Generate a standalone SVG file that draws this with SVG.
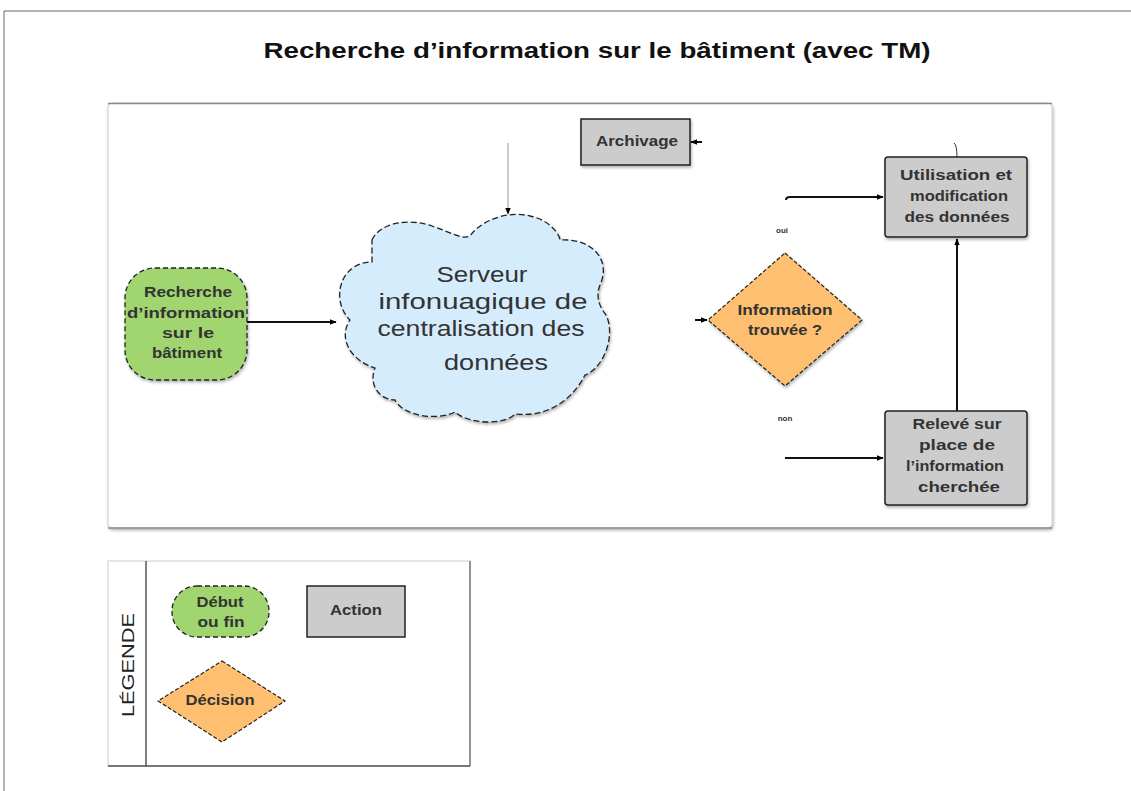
<svg xmlns="http://www.w3.org/2000/svg" width="1131" height="791" viewBox="0 0 1131 791">
<defs>
<marker id="arr" viewBox="0 0 10 10" refX="9" refY="5" markerWidth="7" markerHeight="7" orient="auto" markerUnits="userSpaceOnUse">
<path d="M0,1 L10,5 L0,9 Z" fill="#000"/>
</marker>
<filter id="sh" x="-10%" y="-10%" width="120%" height="130%">
<feDropShadow dx="1" dy="2" stdDeviation="1.5" flood-color="#000" flood-opacity="0.3"/>
</filter>
</defs>
<style>
text{font-family:"Liberation Sans",Arial,sans-serif;fill:#333;}
.t{font-size:14px;font-weight:bold;text-anchor:middle;}
.cl{font-size:22px;text-anchor:middle;fill:#333;}
.start{fill:#a0d56f;stroke:#222;stroke-width:1.3;stroke-dasharray:5 3;}
.act{fill:#cccccc;stroke:#222;stroke-width:1.5;}
.dec{fill:#fec070;stroke:#222;stroke-width:1.2;stroke-dasharray:4 2;}
.cloud{fill:#d5ecfc;stroke:#222;stroke-width:1.3;stroke-dasharray:6 3;}
.c{fill:none;stroke:#111;stroke-width:2;}
</style>
<rect width="1131" height="791" fill="#fff"/>
<path d="M4,791 V11 H1131" fill="none" stroke="#666" stroke-width="1"/>
<text x="597" y="58" textLength="667" lengthAdjust="spacingAndGlyphs" style="font-size:22px;font-weight:bold;text-anchor:middle;fill:#111">Recherche d’information sur le bâtiment (avec TM)</text>

<g id="panel">
<rect x="108" y="103" width="944" height="425" rx="4" fill="#fff" stroke="#ccc" stroke-width="1" filter="url(#sh)"/>
<line x1="108" y1="103.5" x2="1052" y2="103.5" stroke="#888" stroke-width="1.5"/>
<line x1="108" y1="528" x2="1052" y2="528" stroke="#888" stroke-width="1.5"/>
</g>

<g id="connectors">
<line class="c" x1="247" y1="322" x2="336" y2="322" marker-end="url(#arr)"/>
<path d="M508,143 V214" fill="none" stroke="#999" stroke-width="1" marker-end="url(#arr)"/>
<line class="c" x1="702" y1="142" x2="691" y2="142" marker-end="url(#arr)"/>
<path class="c" d="M786,200 Q786,197 790,197 H883" marker-end="url(#arr)"/>
<line class="c" x1="695" y1="320" x2="707" y2="320" marker-end="url(#arr)"/>
<line class="c" x1="785" y1="458" x2="883" y2="458" marker-end="url(#arr)"/>
<line class="c" x1="957" y1="411" x2="957" y2="239" marker-end="url(#arr)"/>
<path d="M954,143 Q957,145 957,157" fill="none" stroke="#333" stroke-width="1"/>
<text x="782" y="233" style="font-size:8px;font-weight:bold;text-anchor:middle">oui</text>
<text x="785" y="421" style="font-size:8px;font-weight:bold;text-anchor:middle">non</text>
</g>

<g id="start">
<rect class="start" x="125" y="268" width="122" height="112" rx="30" ry="30" filter="url(#sh)"/>
<text class="t" x="188" y="297" textLength="88" lengthAdjust="spacingAndGlyphs">Recherche</text>
<text class="t" x="186" y="318" textLength="118" lengthAdjust="spacingAndGlyphs">d’information</text>
<text class="t" x="188" y="338" textLength="52" lengthAdjust="spacingAndGlyphs">sur le</text>
<text class="t" x="187" y="358" textLength="70" lengthAdjust="spacingAndGlyphs">bâtiment</text>
</g>

<g id="cloud">
<path class="cloud" filter="url(#sh)" d="M372,240 C380,222 410,218 432,226 C450,232 462,240 470,236 C480,222 505,210 530,216 C550,220 560,235 560,240 C590,238 612,258 600,285 C596,295 598,305 606,315 C616,335 604,368 585,375 C575,395 552,418 515,414 C505,425 470,425 455,412 C440,420 405,418 395,400 C380,400 368,385 375,368 C350,360 338,338 350,320 C330,300 340,262 372,262 Z"/>
<text class="cl" x="482" y="282" textLength="91" lengthAdjust="spacingAndGlyphs">Serveur</text>
<text class="cl" x="483" y="309" textLength="209" lengthAdjust="spacingAndGlyphs">infonuagique de</text>
<text class="cl" x="481" y="336" textLength="207" lengthAdjust="spacingAndGlyphs">centralisation des</text>
<text class="cl" x="496" y="370" textLength="104" lengthAdjust="spacingAndGlyphs">données</text>
</g>

<g id="archivage">
<rect class="act" x="581" y="119" width="109" height="46" filter="url(#sh)"/>
<text class="t" x="637" y="146" textLength="82" lengthAdjust="spacingAndGlyphs">Archivage</text>
</g>

<g id="utilisation">
<rect class="act" x="885" y="157" width="142" height="80" rx="3" filter="url(#sh)"/>
<text class="t" x="956" y="180" textLength="112" lengthAdjust="spacingAndGlyphs">Utilisation et</text>
<text class="t" x="959" y="201" textLength="98" lengthAdjust="spacingAndGlyphs">modification</text>
<text class="t" x="957" y="222" textLength="105" lengthAdjust="spacingAndGlyphs">des données</text>
</g>

<g id="decision">
<polygon class="dec" points="785,253 862,320 785,386 708,320" filter="url(#sh)"/>
<text class="t" x="785" y="315" textLength="95" lengthAdjust="spacingAndGlyphs">Information</text>
<text class="t" x="785" y="335" textLength="74" lengthAdjust="spacingAndGlyphs">trouvée ?</text>
</g>

<g id="releve">
<rect class="act" x="885" y="411" width="142" height="94" rx="3" filter="url(#sh)"/>
<text class="t" x="957" y="429" textLength="89" lengthAdjust="spacingAndGlyphs">Relevé sur</text>
<text class="t" x="957" y="450" textLength="76" lengthAdjust="spacingAndGlyphs">place de</text>
<text class="t" x="955" y="471" textLength="98" lengthAdjust="spacingAndGlyphs">l’information</text>
<text class="t" x="959" y="492" textLength="82" lengthAdjust="spacingAndGlyphs">cherchée</text>
</g>

<g id="legend">
<rect x="108" y="561" width="362" height="205" fill="#fff" stroke="#ccc" stroke-width="1"/>
<line x1="108" y1="766" x2="470" y2="766" stroke="#777" stroke-width="2"/>
<line x1="470" y1="561" x2="470" y2="766" stroke="#777" stroke-width="1.5"/>
<line x1="146" y1="561" x2="146" y2="766" stroke="#555" stroke-width="1.5"/>
<text transform="translate(134,665) rotate(-90)" textLength="104" lengthAdjust="spacingAndGlyphs" style="font-size:17px;text-anchor:middle;fill:#222">LÉGENDE</text>
<g id="leg-start">
<rect class="start" x="172" y="586" width="97" height="51" rx="25" ry="25"/>
<text class="t" x="220" y="607" textLength="47" lengthAdjust="spacingAndGlyphs">Début</text>
<text class="t" x="221" y="627" textLength="47" lengthAdjust="spacingAndGlyphs">ou fin</text>
</g>
<g id="leg-action">
<rect class="act" x="307" y="586" width="98" height="51" stroke-width="1"/>
<text class="t" x="356" y="615" textLength="52" lengthAdjust="spacingAndGlyphs">Action</text>
</g>
<g id="leg-decision">
<polygon class="dec" points="222,661 285,701 222,742 158,701"/>
<text class="t" x="220" y="705" textLength="69" lengthAdjust="spacingAndGlyphs">Décision</text>
</g>
</g>
</svg>
